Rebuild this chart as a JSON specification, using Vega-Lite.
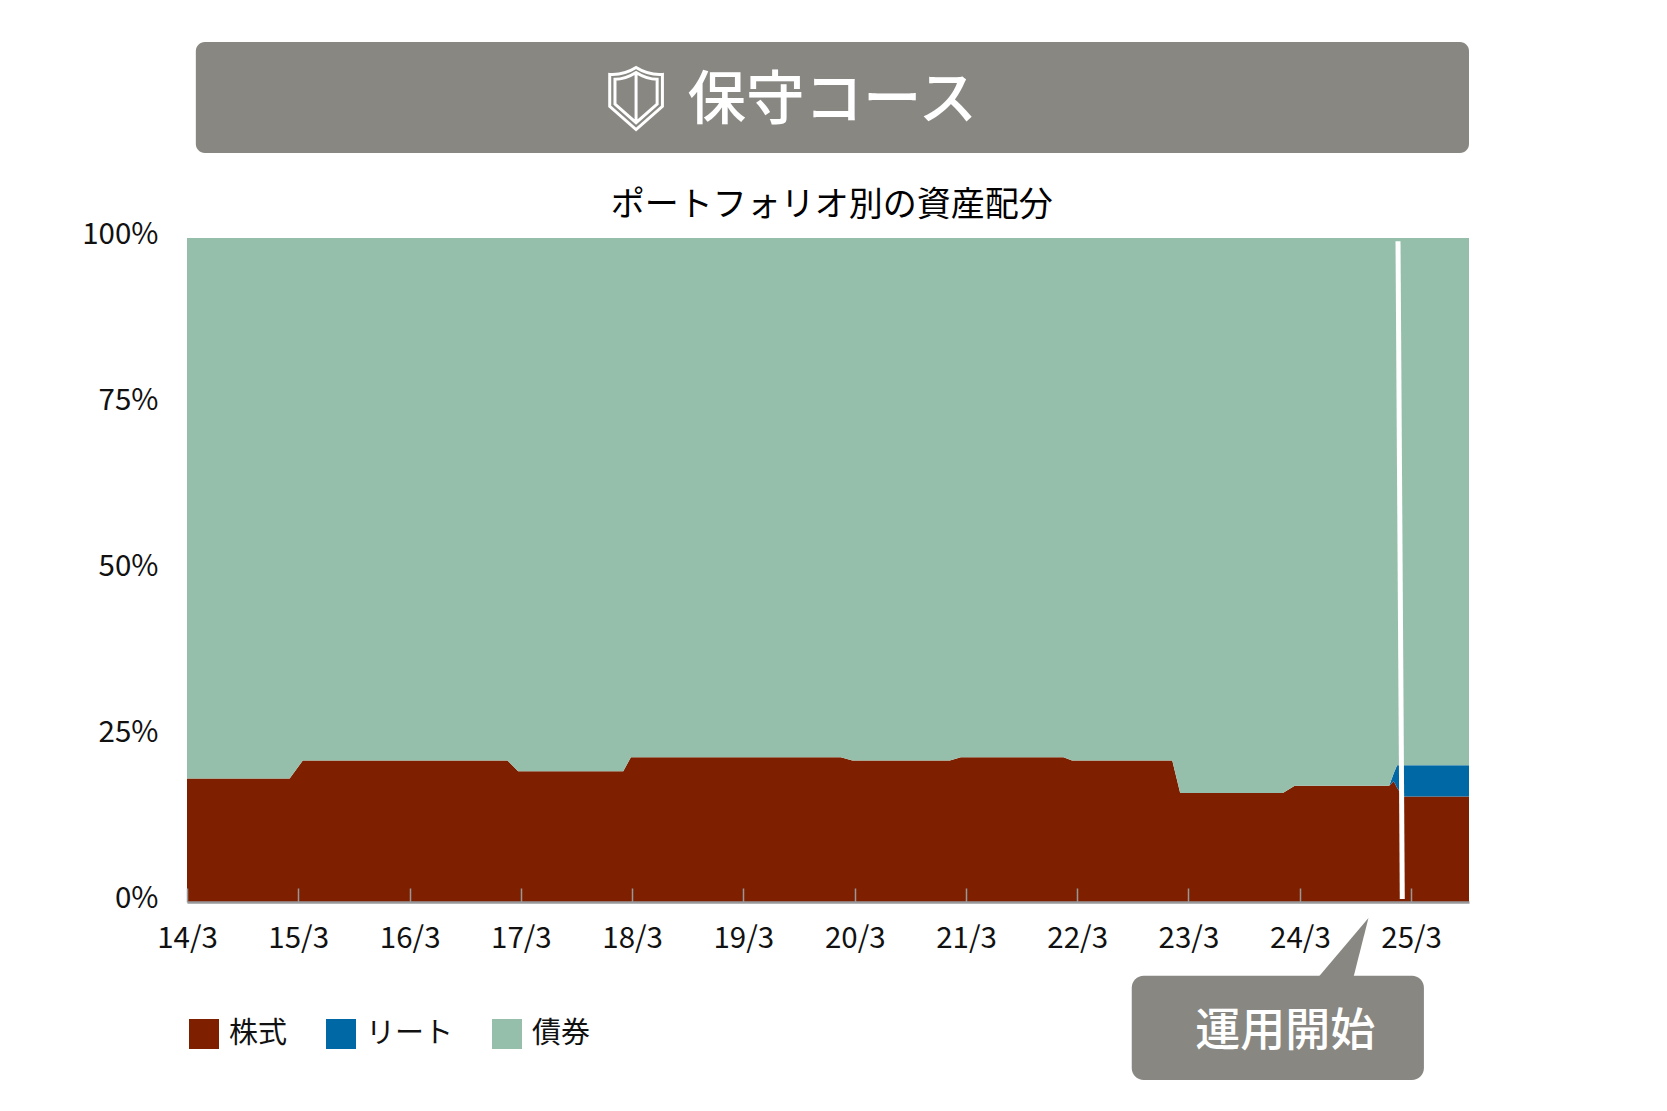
{"$schema":"https://vega.github.io/schema/vega-lite/v6.json","width":1282,"height":664,"autosize":{"type":"none"},"padding":{"left":187,"top":238,"right":198,"bottom":209},"background":"#ffffff","config":{"view":{"stroke":null},"font":"Noto Sans CJK JP"},"datasets":{"alloc":[
{"d":"2014-03-01","s":"株式","o":1,"v":18.6},{"d":"2014-03-01","s":"リート","o":2,"v":0},{"d":"2014-03-01","s":"債券","o":3,"v":81.4},
{"d":"2015-02-01","s":"株式","o":1,"v":18.6},{"d":"2015-02-01","s":"リート","o":2,"v":0},{"d":"2015-02-01","s":"債券","o":3,"v":81.4},
{"d":"2015-03-16","s":"株式","o":1,"v":21.3},{"d":"2015-03-16","s":"リート","o":2,"v":0},{"d":"2015-03-16","s":"債券","o":3,"v":78.7},
{"d":"2017-01-16","s":"株式","o":1,"v":21.3},{"d":"2017-01-16","s":"リート","o":2,"v":0},{"d":"2017-01-16","s":"債券","o":3,"v":78.7},
{"d":"2017-02-20","s":"株式","o":1,"v":19.7},{"d":"2017-02-20","s":"リート","o":2,"v":0},{"d":"2017-02-20","s":"債券","o":3,"v":80.3},
{"d":"2018-01-31","s":"株式","o":1,"v":19.7},{"d":"2018-01-31","s":"リート","o":2,"v":0},{"d":"2018-01-31","s":"債券","o":3,"v":80.3},
{"d":"2018-02-25","s":"株式","o":1,"v":21.8},{"d":"2018-02-25","s":"リート","o":2,"v":0},{"d":"2018-02-25","s":"債券","o":3,"v":78.2},
{"d":"2020-01-15","s":"株式","o":1,"v":21.8},{"d":"2020-01-15","s":"リート","o":2,"v":0},{"d":"2020-01-15","s":"債券","o":3,"v":78.2},
{"d":"2020-02-22","s":"株式","o":1,"v":21.3},{"d":"2020-02-22","s":"リート","o":2,"v":0},{"d":"2020-02-22","s":"債券","o":3,"v":78.7},
{"d":"2021-01-07","s":"株式","o":1,"v":21.3},{"d":"2021-01-07","s":"リート","o":2,"v":0},{"d":"2021-01-07","s":"債券","o":3,"v":78.7},
{"d":"2021-02-12","s":"株式","o":1,"v":21.8},{"d":"2021-02-12","s":"リート","o":2,"v":0},{"d":"2021-02-12","s":"債券","o":3,"v":78.2},
{"d":"2022-01-15","s":"株式","o":1,"v":21.8},{"d":"2022-01-15","s":"リート","o":2,"v":0},{"d":"2022-01-15","s":"債券","o":3,"v":78.2},
{"d":"2022-02-12","s":"株式","o":1,"v":21.3},{"d":"2022-02-12","s":"リート","o":2,"v":0},{"d":"2022-02-12","s":"債券","o":3,"v":78.7},
{"d":"2023-01-07","s":"株式","o":1,"v":21.3},{"d":"2023-01-07","s":"リート","o":2,"v":0},{"d":"2023-01-07","s":"債券","o":3,"v":78.7},
{"d":"2023-02-02","s":"株式","o":1,"v":16.4},{"d":"2023-02-02","s":"リート","o":2,"v":0},{"d":"2023-02-02","s":"債券","o":3,"v":83.6},
{"d":"2024-01-05","s":"株式","o":1,"v":16.4},{"d":"2024-01-05","s":"リート","o":2,"v":0},{"d":"2024-01-05","s":"債券","o":3,"v":83.6},
{"d":"2024-02-13","s":"株式","o":1,"v":17.5},{"d":"2024-02-13","s":"リート","o":2,"v":0},{"d":"2024-02-13","s":"債券","o":3,"v":82.5},
{"d":"2024-12-19","s":"株式","o":1,"v":17.5},{"d":"2024-12-19","s":"リート","o":2,"v":0},{"d":"2024-12-19","s":"債券","o":3,"v":82.5},
{"d":"2025-01-03","s":"株式","o":1,"v":18.2},{"d":"2025-01-03","s":"リート","o":2,"v":1.2},{"d":"2025-01-03","s":"債券","o":3,"v":80.6},
{"d":"2025-01-14","s":"株式","o":1,"v":17.2},{"d":"2025-01-14","s":"リート","o":2,"v":3.4},{"d":"2025-01-14","s":"債券","o":3,"v":79.4},
{"d":"2025-02-01","s":"株式","o":1,"v":15.9},{"d":"2025-02-01","s":"リート","o":2,"v":4.7},{"d":"2025-02-01","s":"債券","o":3,"v":79.4},
{"d":"2025-09-07","s":"株式","o":1,"v":15.9},{"d":"2025-09-07","s":"リート","o":2,"v":4.7},{"d":"2025-09-07","s":"債券","o":3,"v":79.4}
]},
"layer":[
{"data":{"name":"alloc"},"mark":{"type":"area","interpolate":"linear"},"encoding":{
"x":{"field":"d","type":"temporal","scale":{"type":"utc","domain":["2014-03-01","2025-09-07"]},"axis":{"title":null,"labelExpr":"utcFormat(datum.value, '%y/%-m')","values":["2014-03-01","2015-03-01","2016-03-01","2017-03-01","2018-03-01","2019-03-01","2020-03-01","2021-03-01","2022-03-01","2023-03-01","2024-03-01","2025-03-01"],"tickSize":-14,"tickColor":"#98989a","tickWidth":1.5,"domainColor":"#98989a","domainWidth":2.5,"labelFontSize":29.5,"labelColor":"#111111","labelPadding":36,"labelFont":"Noto Sans CJK JP","labelAngle":0,"labelOverlap":false,"labelBound":false,"labelFlush":false,"zindex":1,"grid":false}},
"y":{"field":"v","type":"quantitative","stack":"zero","scale":{"domain":[0,100],"nice":false},"axis":{"title":null,"values":[0,25,50,75,100],"labelExpr":"datum.value + '%'","domain":false,"ticks":false,"grid":false,"labelFontSize":29.5,"labelColor":"#111111","labelPadding":29,"labelOffset":-4,"labelFont":"Noto Sans CJK JP"}},
"order":{"field":"o","type":"quantitative"},
"color":{"field":"s","type":"nominal","scale":{"domain":["株式","リート","債券"],"range":["#7e2000","#0069a5","#96bfab"]},"legend":{"title":null,"orient":"none","legendX":2,"legendY":781,"direction":"horizontal","columns":3,"symbolType":"square","symbolSize":900,"symbolStrokeWidth":0,"symbolOpacity":1,"labelFontSize":29,"labelColor":"#111111","labelFont":"Noto Sans CJK JP","labelOffset":10,"columnPadding":38,"padding":0}}
}},
{"data":{"values":[{"d":"2025-01-17","p":99.5},{"d":"2025-01-31","p":0.45}]},"mark":{"type":"line","color":"#ffffff","strokeWidth":5,"clip":false},"encoding":{"x":{"field":"d","type":"temporal"},"y":{"field":"p","type":"quantitative"}}},
{"data":{"values":[{"d":"2014-03-30","d2":"2025-09-07","p":112.8,"p2":129.5}]},"mark":{"type":"rect","color":"#888782","cornerRadius":9},"encoding":{"x":{"field":"d","type":"temporal"},"x2":{"field":"d2"},"y":{"field":"p","type":"quantitative"},"y2":{"field":"p2"}}},
{"data":{"values":[{"d":"2022-08-27","d2":"2025-04-12","p":-26.8,"p2":-11.1}]},"mark":{"type":"rect","color":"#888782","cornerRadius":12},"encoding":{"x":{"field":"d","type":"temporal"},"x2":{"field":"d2"},"y":{"field":"p","type":"quantitative"},"y2":{"field":"p2"}}},
{"data":{"values":[{"d":"2024-05-01","d2":"2024-08-24","p":-11.3},{"d":"2024-10-12","d2":"2024-10-12","p":-2.4}]},"mark":{"type":"area","color":"#888782","orient":"horizontal"},"encoding":{"x":{"field":"d","type":"temporal"},"x2":{"field":"d2"},"y":{"field":"p","type":"quantitative","stack":null}}},
{"data":{"values":[{"d":"2018-03-14","p":121}]},"mark":{"type":"point","shape":"M0,-1Q-.4,-.75,-.85,-.78L-.85,.25L0,1L.85,.25L.85,-.78Q.4,-.75,0,-1ZM0,-.84Q-.35,-.62,-.68,-.62L-.68,.18L0,.78L.68,.18L.68,-.62Q.35,-.62,0,-.84ZM0,-.8L0,.75","size":3844,"filled":false,"stroke":"#ffffff","strokeWidth":3,"opacity":1},"encoding":{"x":{"field":"d","type":"temporal"},"y":{"field":"p","type":"quantitative"}}},
{"data":{"values":[{"d":"2019-12-18","p":120.6,"t":"保守コース"}]},"mark":{"type":"text","color":"#ffffff","fontSize":58.5,"font":"Noto Sans CJK JP","fontWeight":500,"align":"center","baseline":"middle"},"encoding":{"x":{"field":"d","type":"temporal"},"y":{"field":"p","type":"quantitative"},"text":{"field":"t"}}},
{"data":{"values":[{"d":"2019-12-16","p":104.8,"t":"ポートフォリオ別の資産配分"}]},"mark":{"type":"text","color":"#000000","fontSize":34,"font":"Noto Sans CJK JP","align":"center","baseline":"middle"},"encoding":{"x":{"field":"d","type":"temporal"},"y":{"field":"p","type":"quantitative"},"text":{"field":"t"}}},
{"data":{"values":[{"d":"2024-01-13","p":-19.6,"t":"運用開始"}]},"mark":{"type":"text","color":"#ffffff","fontSize":45,"font":"Noto Sans CJK JP","fontWeight":500,"align":"center","baseline":"middle"},"encoding":{"x":{"field":"d","type":"temporal"},"y":{"field":"p","type":"quantitative"},"text":{"field":"t"}}}
]}
